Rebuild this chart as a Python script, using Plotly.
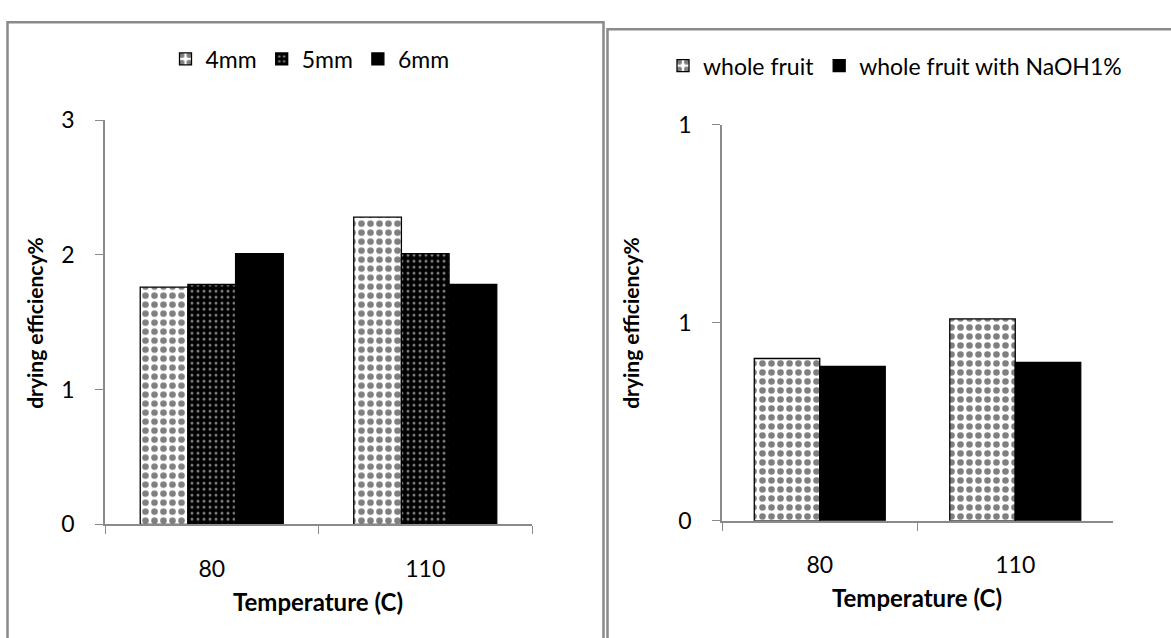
import plotly.graph_objects as go

W, H = 1171, 638

# Left chart: slice thickness
temps = ["80", "110"]
eff_4mm = [1.76, 2.28]
eff_5mm = [1.78, 2.01]
eff_6mm = [2.01, 1.78]

# Right chart: whole fruit treatment
eff_whole = [0.41, 0.51]
eff_naoh = [0.39, 0.40]

left_ticks = [0, 1, 2, 3]
right_tickvals = [0, 0.5, 1]
right_ticktext = ["0", "1", "1"]

FONT = "Lato, 'Open Sans', sans-serif"
AXIS_GRAY = "#8a8a8a"

dots_light = dict(shape=".", fgcolor="black", bgcolor="white", size=9, solidity=0.42)
dots_dark = dict(shape=".", fgcolor="white", bgcolor="black", size=6, solidity=0.2)
outline = dict(color="black", width=1.3)

fig = go.Figure()
fig.add_trace(go.Bar(x=temps, y=eff_4mm, name="4mm", xaxis="x", yaxis="y", legend="legend",
                     marker=dict(color="white", pattern=dots_light, line=outline)))
fig.add_trace(go.Bar(x=temps, y=eff_5mm, name="5mm", xaxis="x", yaxis="y", legend="legend",
                     marker=dict(color="black", pattern=dots_dark, line=outline)))
fig.add_trace(go.Bar(x=temps, y=eff_6mm, name="6mm", xaxis="x", yaxis="y", legend="legend",
                     marker=dict(color="black", line=outline)))
fig.add_trace(go.Bar(x=temps, y=eff_whole, name="whole fruit", xaxis="x2", yaxis="y2", legend="legend2",
                     marker=dict(color="white", pattern=dots_light, line=outline)))
fig.add_trace(go.Bar(x=temps, y=eff_naoh, name="whole fruit with NaOH1%", xaxis="x2", yaxis="y2",
                     legend="legend2", marker=dict(color="black", line=outline)))


def px_x(v):
    return v / W


def px_y(v):
    return 1 - v / H


tick_font = dict(size=23, color="black", family=FONT)
xcommon = dict(type="category", showline=True, linecolor=AXIS_GRAY, linewidth=1.6,
               ticks="outside", tickson="boundaries", ticklen=8, tickcolor=AXIS_GRAY,
               tickfont=tick_font, ticklabelstandoff=23, showgrid=False, fixedrange=True)
ycommon = dict(showline=True, linecolor=AXIS_GRAY, linewidth=1.6, ticks="outside",
               ticklen=8, tickcolor=AXIS_GRAY, showgrid=False, zeroline=False,
               tickfont=tick_font, ticklabelstandoff=16, fixedrange=True)

legend_font = dict(size=23, family=FONT, color="black")

fig.update_layout(
    width=W, height=H,
    margin=dict(l=0, r=0, t=0, b=0),
    paper_bgcolor="white", plot_bgcolor="white",
    font=dict(family=FONT, color="black"),
    barmode="group", bargap=0.33, bargroupgap=0,
    xaxis=dict(domain=[px_x(105), px_x(532)], anchor="y", **xcommon),
    yaxis=dict(domain=[px_y(532.7), px_y(110)], anchor="x", range=[0, 3],
               tickvals=left_ticks, **ycommon),
    xaxis2=dict(domain=[px_x(722), px_x(1113)], anchor="y2", **xcommon),
    yaxis2=dict(domain=[px_y(529), px_y(115)], anchor="x2", range=[0, 1],
                tickvals=right_tickvals, ticktext=right_ticktext, **ycommon),
    legend=dict(orientation="h", x=px_x(310), xanchor="center", y=px_y(46), yanchor="middle",
                font=legend_font, itemwidth=30, traceorder="normal",
                bgcolor="rgba(0,0,0,0)"),
    legend2=dict(orientation="h", x=px_x(895), xanchor="center", y=px_y(53), yanchor="middle",
                 font=legend_font, itemwidth=30, traceorder="normal",
                 bgcolor="rgba(0,0,0,0)"),
    showlegend=True,
)

# Panel frames
fig.add_shape(type="rect", xref="paper", yref="paper",
              x0=px_x(7.5), x1=px_x(603.5), y0=-0.05, y1=px_y(7.5),
              line=dict(color=AXIS_GRAY, width=2.5), fillcolor="rgba(0,0,0,0)")
fig.add_shape(type="rect", xref="paper", yref="paper",
              x0=px_x(607.5), x1=1.05, y0=-0.05, y1=px_y(15),
              line=dict(color=AXIS_GRAY, width=2.5), fillcolor="rgba(0,0,0,0)")

# Axis titles
for xc, yc in [(318, 613), (917, 609)]:
    fig.add_annotation(x=px_x(xc), y=px_y(yc), xref="paper", yref="paper",
                       text="<b>Temperature (C)</b>", showarrow=False,
                       font=dict(size=24, family=FONT, color="black"),
                       xanchor="center", yanchor="middle")
for xc, yc in [(35, 322), (631, 322)]:
    fig.add_annotation(x=px_x(xc), y=px_y(yc), xref="paper", yref="paper",
                       text="<b>drying efficiency%</b>", textangle=-90, showarrow=False,
                       font=dict(size=21, family=FONT, color="black"),
                       xanchor="center", yanchor="middle")

fig.write_html("out.html")
